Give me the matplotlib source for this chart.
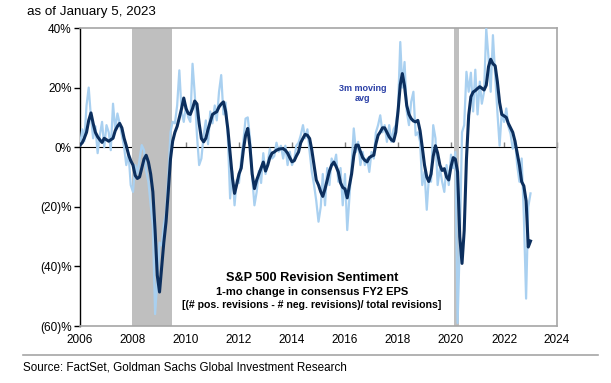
import pandas as pd
import numpy as np
import matplotlib
matplotlib.use("Agg")
import matplotlib.pyplot as plt
import matplotlib.dates as mdates
import matplotlib.ticker as mticker

# Monthly readings, Jan 2006 .. Jan 2023 (values in %)
start_month = "2006-01-01"

raw_sentiment = [
    0.5, 6, 2, 14, 20, 10, 3, 7, -2, 4, 8.5, 0,
    7.4, 5, -1, 14.6, 6, 11.3, 8, 4, 0, -6, -2, -12.7,
    -15, -6, -9, -4, 0.7, -1, -8, -11.6, -19.5, -26, -56, -45,
    -32, -33, -26, -22, -10, 5, 8.5, 8, 14, 25.8, 12, 8.5,
    14, 10, 8.5, 28, 18, 4, -6, -3.8, 4, 9, 1, 12,
    8, 14, 9, 18.6, 24.2, 11, 15, 3, -17.2, -8, -19.5, -11,
    -12, -4, 2, 9.6, 10, 3, -10, -19.5, -15, -8, -12, -2,
    -9, -5, -0.5, -3.8, -3, 1.5, -1.5, 0.5, -3.8, 0.5, -6, -1.5,
    -6, -4, 0.5, 1.5, 4, 7.4, 3, 6, -1.6, -8.3, -12.7, -18,
    -25, -20, -9, -19.5, -7, -12.7, -3.8, -6, -2.5, -11.6, -7, -19.5,
    -9, -27.8, -17.2, -6, 6.3, -1.6, 1.8, -6, -1.6, -6, -3.8, -8.3,
    -1.6, -3.8, 4.9, 7.4, 10.7, 5, 7.4, 1.8, 7.4, 1.8, 6, 7.4,
    13, 35.3, 20, 28.6, 12, 7.4, 15.2, 18.6, 4, 5, 1.8, -12.7,
    -8.3, -21, -10.5, -11.6, 7.4, 3, -12.7, -7, -11.6, -15, -6, -12.7,
    -2.5, -7, -1.6, -59, -32, 5, 7.4, 25.3, 18.6, 25, 12, 26,
    11, 22, 14.6, 18.6, 39.8, 30, 18.6, 37.6, 24, 12, 0.5, 12,
    8.5, 13, 7, 4.5, -0.5, 2.5, -6, -11.6, -3.8, -23, -50.8, -20,
    -15.5,
]

moving_avg_3m = [
    0.7, 1.5, 3, 5, 9, 11.5, 8, 5, 3.5, 2.5, 1.6, 3,
    2.5, 2, 2.5, 3, 5.5, 7, 8, 6.5, 3, 0.5, -2.5, -4.5,
    -6, -9.5, -10.5, -10, -7, -4, -2.7, -5, -9, -15, -28, -43,
    -48.6, -40, -32, -25, -15, -4, 2, 5, 7, 10, 13, 16.5,
    13, 11.3, 11, 13, 15.5, 14.5, 8, 2.9, 1.8, 3, 6, 8.5,
    11, 11.5, 11.9, 13.5, 14.5, 15.2, 12, 6, -2, -10, -15.5, -12.5,
    -9, -7, -1, 4, 6.3, 0, -9, -13.9, -11, -9, -7, -5,
    -8, -6, -3.5, -2, -1.6, -1, -0.7, -0.5, -0.5, -1, -2, -3.5,
    -4.9, -4.5, -3, -1.6, 1.5, 3, 4.3, 4, 2.9, -1, -6, -11,
    -12.7, -15, -16.5, -14, -11, -8, -6, -5, -6.5, -8.3, -12, -13.5,
    -14, -17, -13, -9, -3, 0.7, 0.7, -1.5, -3.5, -4.4, -4.9, -3.5,
    -3, -2.7, 1, 4, 5.1, 6.5, 6.5, 5, 3.5, 2.5, 2, 5,
    12, 21, 24.7, 20.5, 14, 11, 9.6, 8.8, 8.5, 9, 5.5, 0,
    -6, -10, -11.5, -9, -3, 0.5, -2, -6, -7.8, -7.2, -10, -11,
    -6.5, -3.5, -4, -8.3, -30, -39, -28, -4, 10.7, 16.9, 18.5, 19,
    19.7, 20.3, 19.8, 19.2, 20.8, 27, 29.5, 28, 27.3, 22, 15, 11,
    10.5, 10, 8, 6.5, 5, 2, -2, -6, -11.6, -13, -18, -33.5,
    -31.5,
]

recessions = [("2007-12-15", "2009-06-20"), ("2020-02-10", "2020-04-25")]

year_ticks = list(range(2006, 2026, 2))
y_ticks = [-60, -40, -20, 0, 20, 40]


def pct_label(v, pos=None):
    if v < 0:
        return f"({abs(v):.0f})%"
    return f"{v:.0f}%"


plt.rcParams["font.family"] = ["Liberation Sans", "DejaVu Sans"]

dates = pd.date_range(start_month, periods=len(raw_sentiment), freq="MS")
df = pd.DataFrame({"raw": raw_sentiment, "ma": moving_avg_3m}, index=dates)

W, H = 611, 383
fig = plt.figure(figsize=(W / 100, H / 100), dpi=100)
ax = fig.add_axes([80 / W, 1 - 326 / H, (557 - 80) / W, (326 - 28) / H])

# Recession shading
for a, b in recessions:
    ax.axvspan(pd.Timestamp(a), pd.Timestamp(b), color="#bfbfbf", lw=0, zorder=1)

ax.plot(df.index, df["raw"], color="#a9d0f0", lw=1.6, zorder=3)
ax.plot(df.index, df["ma"], color="#0c2f5e", lw=2.2, zorder=4)

ax.set_xlim(pd.Timestamp("2006-01-01"), pd.Timestamp("2024-01-01"))
ax.set_ylim(-60, 40)
ax.set_yticks(y_ticks)
ax.yaxis.set_major_formatter(mticker.FuncFormatter(pct_label))

xt = [pd.Timestamp(f"{y}-01-01") for y in year_ticks]
ax.set_xticks(xt)
ax.set_xticklabels([str(y) for y in year_ticks])
ax.tick_params(axis="x", length=0, pad=6, labelsize=8.5, colors="black")
ax.tick_params(axis="y", length=4, width=1, direction="out", labelsize=8.5, pad=2)

for side in ["top", "right", "bottom"]:
    ax.spines[side].set_color("#a6a6a6")
    ax.spines[side].set_linewidth(1.2)
ax.spines["left"].set_color("black")
ax.spines["left"].set_linewidth(1)

# Zero line carrying the year tick marks
zero_ax = ax.secondary_xaxis(0.6)
zero_ax.set_xticks(xt)
zero_ax.set_xticklabels([])
zero_ax.tick_params(length=3.5, width=1, color="#7f7f7f", direction="out")
zero_ax.spines["bottom"].set_color("#7f7f7f")
zero_ax.spines["bottom"].set_linewidth(1.5)

# Annotations
ax.text(pd.Timestamp("2016-09-01"), 18, "3m moving\navg", color="#2a3fa6",
        fontsize=6.5, fontweight="bold", ha="center", va="center",
        linespacing=1.1, zorder=5)

fig.text(312 / W, 1 - 278 / H, "S&P 500 Revision Sentiment",
         fontsize=9.2, fontweight="bold", ha="center", va="center")
fig.text(312 / W, 1 - 292 / H, "1-mo change in consensus FY2 EPS",
         fontsize=8, fontweight="bold", ha="center", va="center")
fig.text(312 / W, 1 - 305.5 / H,
         "[(# pos. revisions - # neg. revisions)/ total revisions]",
         fontsize=7.6, fontweight="bold", ha="center", va="center")

fig.text(27 / W, 1 - 12 / H, "as of January 5, 2023", fontsize=9.6,
         ha="left", va="center")
fig.add_artist(plt.Line2D([23 / W, 598 / W], [1 - 355 / H, 1 - 355 / H],
                          color="#a6a6a6", lw=1.2))
fig.text(23 / W, 1 - 368 / H,
         "Source: FactSet, Goldman Sachs Global Investment Research",
         fontsize=8.4, ha="left", va="center")

fig.savefig("out.png", dpi=100)
